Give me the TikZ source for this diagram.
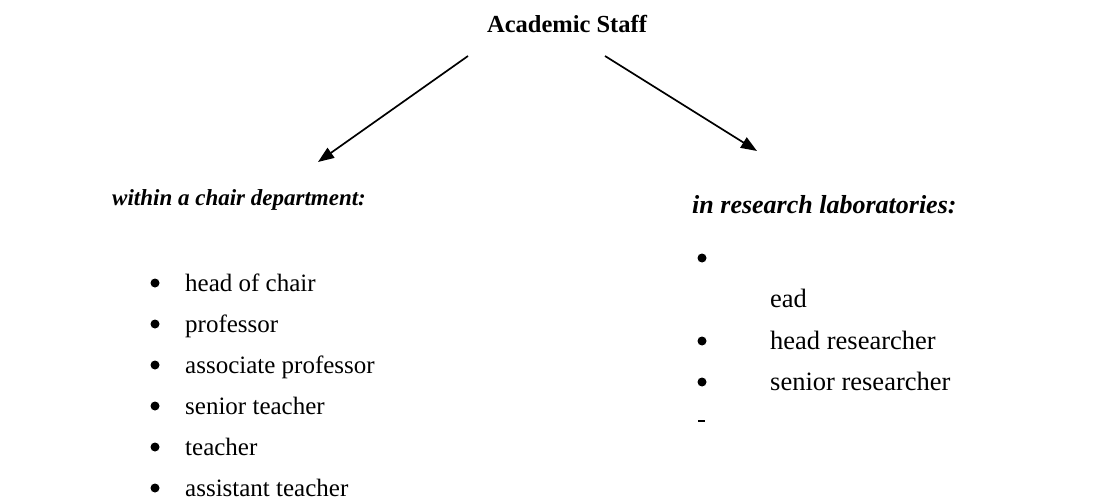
\documentclass[tikz,border=0pt]{standalone}
\usepackage{fontspec}
\setmainfont{Liberation Serif}
\usetikzlibrary{arrows.meta}
\begin{document}
\begin{tikzpicture}[x=1pt,y=-1pt,
  heading/.style={font=\fontsize{24.5}{28}\selectfont\bfseries, inner sep=0pt, anchor=base west},
  subhead/.style={heading, font=\fontsize{24}{28}\selectfont\bfseries\itshape},
  item/.style={font=\fontsize{25}{30}\selectfont, inner sep=0pt, anchor=base west},
  dot/.style={circle, fill=black, inner sep=0pt, minimum size=9pt},
  link/.style={line width=1.7pt, -{Triangle[length=16pt,width=12pt]}}]
\useasboundingbox (0,0) rectangle (1096,503);

% title
\node[heading, anchor=base] (title) at (567,33) {Academic Staff};

% connectors
\coordinate (l0) at (468,56);
\coordinate (l1) at (318,162);
\coordinate (r0) at (605,56);
\coordinate (r1) at (757,151);
\draw[link] (l0) -- (l1);
\draw[link] (r0) -- (r1);

% left column
\node[subhead, font=\fontsize{23}{28}\selectfont\bfseries\itshape] (chair) at (112,205) {within a chair department:};
\foreach \t [count=\i] in {head of chair, professor, associate professor, senior teacher, teacher, assistant teacher} {
  \node[dot] (lb\i) at (155, 283+41*\i-41) {};
  \node[item] (lt\i) at (185, 291+41*\i-41) {\t};
}

% right column
\node[subhead, font=\fontsize{26}{30}\selectfont\bfseries\itshape] (lab) at (692,213) {in research laboratories:};
\node[dot] (rb1) at (702,258) {};
\node[item, font=\fontsize{26.5}{30}\selectfont] (rt1) at (770,307) {ead};
\node[dot] (rb2) at (702,341) {};
\node[item, font=\fontsize{26.5}{30}\selectfont] (rt2) at (770,349) {head researcher};
\node[dot] (rb3) at (702,382) {};
\node[item, font=\fontsize{26.5}{30}\selectfont] (rt3) at (770,390) {senior researcher};
\fill (rb3) ++(-4,40) rectangle ++(7,-2.5);
\end{tikzpicture}
\end{document}
